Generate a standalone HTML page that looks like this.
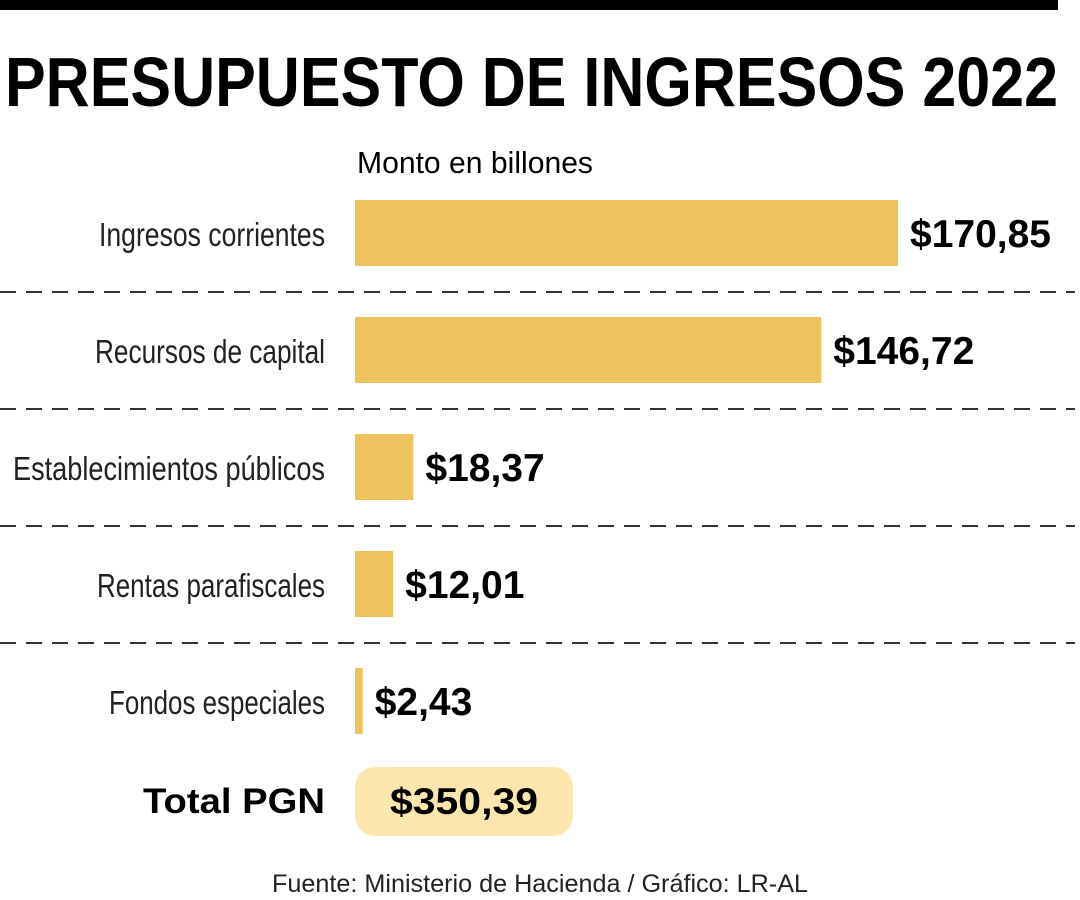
<!DOCTYPE html>
<html><head><meta charset="utf-8"><style>
html,body{margin:0;padding:0;background:#fff;width:1080px;height:900px;overflow:hidden}
svg{display:block}
</style></head><body>
<svg id="chart" width="1080" height="900" viewBox="0 0 1080 900" font-family="'Liberation Sans', sans-serif">
<rect x="0" y="0" width="1058" height="10" fill="#000"/>
<text x="5" y="106" font-size="70" font-weight="bold" textLength="1053" lengthAdjust="spacingAndGlyphs">PRESUPUESTO DE INGRESOS 2022</text>
<text x="357" y="173" font-size="31" textLength="236" lengthAdjust="spacingAndGlyphs">Monto en billones</text>
<g id="bars"></g>
<rect x="355" y="767" width="218" height="69" rx="20" fill="#fde6ae"/>
<text x="325" y="813" font-size="35" font-weight="bold" text-anchor="end" textLength="182" lengthAdjust="spacingAndGlyphs">Total PGN</text>
<text x="464" y="814" font-size="37" font-weight="bold" text-anchor="middle" textLength="148" lengthAdjust="spacingAndGlyphs">$350,39</text>
<text x="272" y="892" font-size="25" fill="#222" textLength="536" lengthAdjust="spacingAndGlyphs">Fuente: Ministerio de Hacienda / Gráfico: LR-AL</text>
</svg>
<script>
const categories = ["Ingresos corrientes","Recursos de capital","Establecimientos públicos","Rentas parafiscales","Fondos especiales"];
const values = [170.85,146.72,18.37,12.01,2.43];
const valueLabels = ["$170,85","$146,72","$18,37","$12,01","$2,43"];
const labelWidths = [226,230,312,228,216];
const NS="http://www.w3.org/2000/svg";
const g=document.getElementById("bars");
const x0=355, pxPerUnit=543/170.85;
const xScale=v=>v*pxPerUnit;
const yBand=i=>200+i*117;
function mk(t,a){const e=document.createElementNS(NS,t);for(const k in a)e.setAttribute(k,a[k]);g.appendChild(e);return e;}
categories.forEach((c,i)=>{
  const y=yBand(i), w=xScale(values[i]);
  const r=mk("rect",{x:x0,y:y,width:w,height:66,fill:"#ecc35c"});
  
  
  const l=mk("text",{x:325,y:y+46,"font-size":33,"text-anchor":"end",fill:"#222",textLength:labelWidths[i],lengthAdjust:"spacingAndGlyphs"});
  l.textContent=c;
  
  
  const vt=mk("text",{x:x0+w+12,y:y+47,"font-size":39,"font-weight":"bold"});
  vt.textContent=valueLabels[i];
  
  
  if(i<categories.length-1){
    const d=mk("line",{x1:0,x2:1075,y1:y+92,y2:y+92,stroke:"#333","stroke-width":2,"stroke-dasharray":"16 10"});
    
    
  }
});
</script>
</body></html>
